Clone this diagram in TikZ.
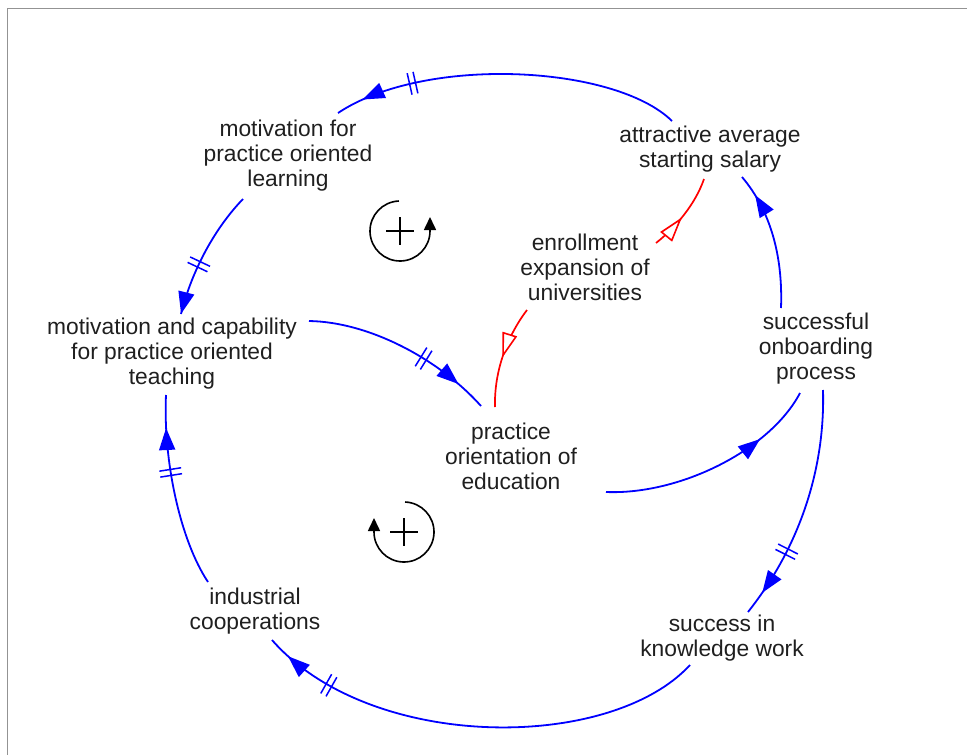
\documentclass[tikz,border=0pt]{standalone}
\usepackage{fontspec}
\setmainfont{Liberation Sans}
\usetikzlibrary{arrows.meta,decorations.markings,calc}

\begin{document}
\begin{tikzpicture}[x=1pt,y=-1pt,
  lbl/.style={align=center, font=\fontsize{22.8}{25}\selectfont, text=black!88, inner sep=0pt},
  pos link/.style={draw=blue, line width=1.8pt},
  neg link/.style={draw=red, line width=1.7pt},
  loopline/.style={draw=black, line width=1.6pt},
  % double bars (delay) and a filled arrowhead part-way along a link
  delayed/.style 2 args={postaction={decorate}, decoration={markings,
    mark=at position #1 with {\draw[blue, line width=1.5pt] (-3,-11) -- (-3,11) (3,-11) -- (3,11);},
    mark=at position #2 with {\arrow[blue]{Triangle[length=22pt,width=16pt]}}}},
  headed/.style={postaction={decorate}, decoration={markings,
    mark=at position #1 with {\arrow[blue]{Triangle[length=22pt,width=16pt]}}}},
  openhead/.style={postaction={decorate}, decoration={markings,
    mark=at position #1 with {\arrow[red, line width=1.6pt]{Triangle[open,fill=white,length=25pt,width=15pt]}}}},
]
\useasboundingbox (0,0) rectangle (967,755);

% frame
\draw[gray!85, line width=1.8pt] (7.5,755) -- (7.5,8.5) -- (967,8.5);

% variables
\node[lbl] (mfl) at (288,156) {motivation for\\practice oriented\\learning};
\node[lbl] (sal) at (710,149) {attractive average\\starting salary};
\node[lbl] (enr) at (585,267) {enrollment\\expansion of\\universities};
\node[lbl] (mct) at (172,354) {motivation and capability\\for practice oriented\\teaching};
\node[lbl] (onb) at (816,349) {successful\\onboarding\\process};
\node[lbl] (edu) at (511,456) {practice\\orientation of\\education};
\node[lbl] (ind) at (255,611) {industrial\\cooperations};
\node[lbl] (skw) at (722,638) {success in\\knowledge work};

% reinforcing loop markers
\coordinate (loopA) at (400,231);
\coordinate (loopB) at (404,532);
\draw[loopline, -{Triangle[length=13pt,width=12pt]}]
  (loopA) ++(92:30pt) arc[start angle=92, end angle=360, radius=30pt] -- ++(0,-14);
\draw[loopline, line width=1.4pt] ($(loopA)+(-14,0)$) -- ($(loopA)+(14,0)$)
  ($(loopA)+(0,-14)$) -- ($(loopA)+(0,14)$);
\draw[loopline, -{Triangle[length=13pt,width=12pt]}]
  (loopB) ++(88:30pt) arc[start angle=88, end angle=-180, radius=30pt] -- ++(0,-14);
\draw[loopline, line width=1.4pt] ($(loopB)+(-14,0)$) -- ($(loopB)+(14,0)$)
  ($(loopB)+(0,-14)$) -- ($(loopB)+(0,14)$);

% causal links of the outer loop
\path[pos link, delayed={0.77}{0.92}]
  ($(sal)+(-38,-28)$) .. controls (615,65) and (425,55) .. ($(mfl)+(50,-43)$);
\path[pos link, delayed={0.6}{0.999}]
  ($(mfl)+(-45,43)$) .. controls (215,228) and (192,270) .. ($(mct)+(9,-40)$);
\path[pos link, delayed={0.62}{0.84}]
  ($(mct)+(137,-33)$) .. controls (370,322) and (440,360) .. ($(edu)+(-30,-50)$);
\path[pos link, headed={0.73}]
  ($(edu)+(95,36)$) .. controls (680,495) and (770,450) .. ($(onb)+(-16,44)$);
\path[pos link, headed={0.84}]
  ($(onb)+(-35,-41)$) .. controls (783,255) and (770,210) .. ($(sal)+(32,28)$);
\path[pos link, delayed={0.7}{0.9}]
  ($(onb)+(7,41)$) .. controls (825,460) and (805,540) .. ($(skw)+(26,-26)$);
\path[pos link, delayed={0.84}{0.95}]
  ($(skw)+(-32,27)$) .. controls (610,752) and (370,752) .. ($(ind)+(17,29)$);
\path[pos link, delayed={0.6}{0.83}]
  ($(ind)+(-47,-29)$) .. controls (180,540) and (163,460) .. ($(mct)+(-6,41)$);

% effects of enrollment expansion
\path[neg link, openhead={0.45}]
  ($(enr)+(71,-24)$) .. controls (675,228) and (695,205) .. ($(sal)+(-6,30)$);
\path[neg link, openhead={0.52}]
  ($(enr)+(-58,43)$) .. controls (508,335) and (494,370) .. ($(edu)+(-16,-49)$);
\end{tikzpicture}
\end{document}
